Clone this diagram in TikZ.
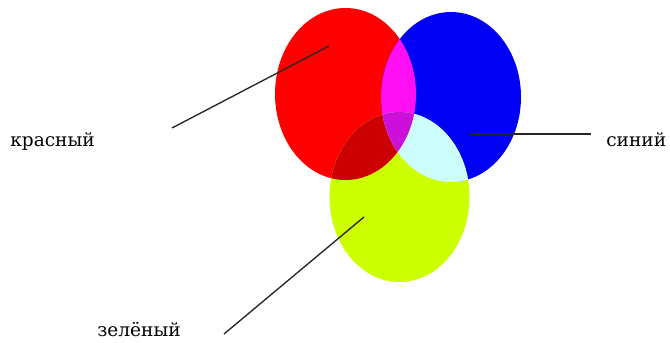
\documentclass[tikz,border=0pt]{standalone}
\usepackage{fontspec}
\usepackage{xcolor}
\newfontfamily\lblfont{DejaVu Serif}
\definecolor{krasnyj}{HTML}{FF0000}
\definecolor{sinij}{HTML}{0000F4}
\definecolor{zelenyj}{HTML}{CCFF00}
\definecolor{krsin}{HTML}{FF10F4}
\definecolor{krzel}{HTML}{CC0000}
\definecolor{sinzel}{HTML}{CCFCFC}
\definecolor{vse}{HTML}{CC10DA}

\begin{document}
\begin{tikzpicture}[x=0.025cm,y=-0.025cm,
    lbl/.style={font=\lblfont\fontsize{13.2}{15}\selectfont, inner sep=0pt, anchor=base west},
    pointer/.style={black!85, line width=0.95pt}]
    \useasboundingbox (0,0) rectangle (670,342);
    % Three ellipses
    \fill[krasnyj] (345.5,94) ellipse [x radius=70.5, y radius=86];
    \fill[sinij] (451,97) ellipse [x radius=70, y radius=85];
    \fill[zelenyj] (399.5,197) ellipse [x radius=70, y radius=85];
    % Overlaps
    \begin{scope}
      \clip (345.5,94) ellipse [x radius=70.5, y radius=86];
      \fill[krsin] (451,97) ellipse [x radius=70, y radius=85];
      \fill[krzel] (399.5,197) ellipse [x radius=70, y radius=85];
    \end{scope}
    \begin{scope}
      \clip (451,97) ellipse [x radius=70, y radius=85];
      \fill[sinzel] (399.5,197) ellipse [x radius=70, y radius=85];
    \end{scope}
    \begin{scope}
      \clip (345.5,94) ellipse [x radius=70.5, y radius=86];
      \clip (451,97) ellipse [x radius=70, y radius=85];
      \fill[vse] (399.5,197) ellipse [x radius=70, y radius=85];
    \end{scope}
    % Labels
    \node[lbl] (red) at (10,146) {красный};
    \node[lbl] (blue) at (606,146) {синий};
    \node[lbl] (green) at (97,336) {зелёный};
    % Pointers
    \coordinate (redin) at (329,46);
    \coordinate (redout) at (172,128);
    \coordinate (bluein) at (470,134);
    \coordinate (blueout) at (591,134);
    \coordinate (greenin) at (364,217);
    \coordinate (greenout) at (224,334);
    \draw[pointer] (redout) -- (redin);
    \draw[pointer] (bluein) -- (blueout);
    \draw[pointer] (greenin) -- (greenout);
\end{tikzpicture}
\end{document}
